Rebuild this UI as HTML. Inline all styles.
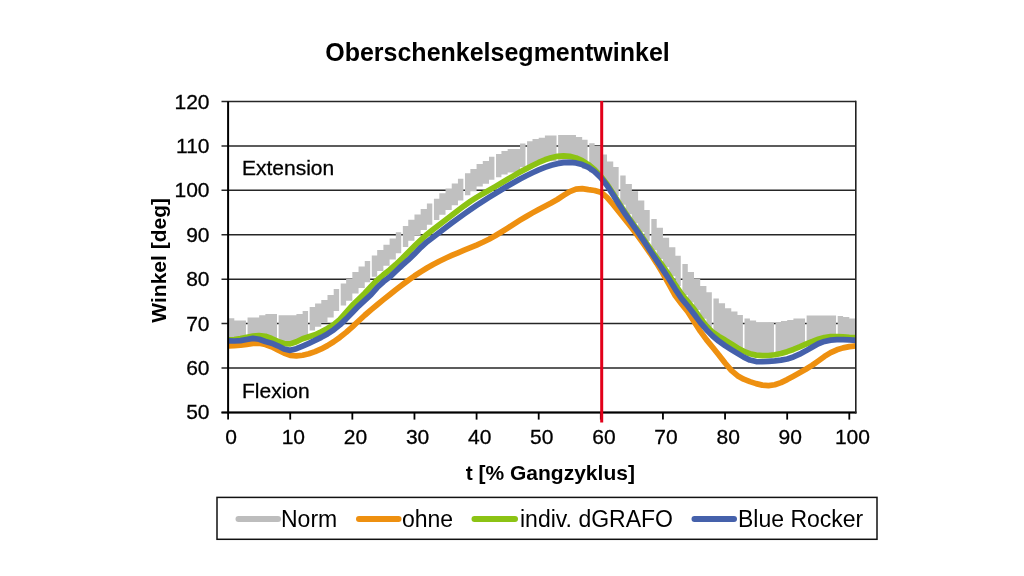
<!DOCTYPE html>
<html><head><meta charset="utf-8"><style>
html,body{margin:0;padding:0;background:#fff;width:1024px;height:576px;overflow:hidden}
svg{display:block;filter:blur(0.4px)}
text{font-family:"Liberation Sans",sans-serif;fill:#000}
.sk text,text.sk{stroke:#000;stroke-width:0.3px}
</style></head><body>
<svg width="1024" height="576" viewBox="0 0 1024 576">
<rect width="1024" height="576" fill="#fff"/>
<text x="497.5" y="60.5" text-anchor="middle" font-size="25" font-weight="bold">Oberschenkelsegmentwinkel</text>
<line x1="221.5" y1="412.45" x2="856" y2="412.45" stroke="#262626" stroke-width="1.5"/><line x1="221.5" y1="368.03" x2="856" y2="368.03" stroke="#262626" stroke-width="1.5"/><line x1="221.5" y1="323.61" x2="856" y2="323.61" stroke="#262626" stroke-width="1.5"/><line x1="221.5" y1="279.19" x2="856" y2="279.19" stroke="#262626" stroke-width="1.5"/><line x1="221.5" y1="234.76" x2="856" y2="234.76" stroke="#262626" stroke-width="1.5"/><line x1="221.5" y1="190.34" x2="856" y2="190.34" stroke="#262626" stroke-width="1.5"/><line x1="221.5" y1="145.92" x2="856" y2="145.92" stroke="#262626" stroke-width="1.5"/><line x1="221.5" y1="101.50" x2="856" y2="101.50" stroke="#262626" stroke-width="1.5"/>
<defs><clipPath id="pc"><rect x="229" y="95" width="626.5" height="317"/></clipPath></defs>
<g fill="#c0c0c0"><path d="M228.10,318.20 L234.31,318.20 L234.31,320.50 L240.52,320.50 L240.52,320.50 L245.94,320.50 L245.94,341.93 L240.52,341.93 L240.52,341.21 L234.31,341.21 L234.31,340.54 L228.10,340.54Z"/><path d="M247.54,317.60 L252.95,317.60 L252.95,317.60 L259.16,317.60 L259.16,315.20 L265.37,315.20 L265.37,314.10 L271.58,314.10 L271.58,314.10 L277.00,314.10 L277.00,339.50 L271.58,339.50 L271.58,338.39 L265.37,338.39 L265.37,338.77 L259.16,338.77 L259.16,340.46 L252.95,340.46 L252.95,339.74 L247.54,339.74Z"/><path d="M278.60,315.20 L284.01,315.20 L284.01,315.20 L290.22,315.20 L290.22,315.20 L296.43,315.20 L296.43,314.10 L302.64,314.10 L302.64,311.10 L308.06,311.10 L308.06,337.73 L302.64,337.73 L302.64,339.80 L296.43,339.80 L296.43,342.78 L290.22,342.78 L290.22,344.53 L284.01,344.53 L284.01,342.33 L278.60,342.33Z"/><path d="M309.66,307.00 L315.07,307.00 L315.07,303.50 L321.28,303.50 L321.28,300.00 L327.49,300.00 L327.49,295.00 L333.70,295.00 L333.70,289.00 L339.12,289.00 L339.12,311.00 L333.70,311.00 L333.70,317.40 L327.49,317.40 L327.49,322.80 L321.28,322.80 L321.28,326.70 L315.07,326.70 L315.07,330.60 L309.66,330.60Z"/><path d="M340.72,283.60 L346.13,283.60 L346.13,278.90 L352.34,278.90 L352.34,271.90 L358.55,271.90 L358.55,266.40 L364.76,266.40 L364.76,260.90 L370.18,260.90 L370.18,282.27 L364.76,282.27 L364.76,287.90 L358.55,287.90 L358.55,293.52 L352.34,293.52 L352.34,300.65 L346.13,300.65 L346.13,305.48 L340.72,305.48Z"/><path d="M371.78,255.50 L377.19,255.50 L377.19,250.00 L383.40,250.00 L383.40,244.80 L389.61,244.80 L389.61,238.60 L395.82,238.60 L395.82,232.30 L401.24,232.30 L401.24,253.30 L395.82,253.30 L395.82,259.60 L389.61,259.60 L389.61,265.80 L383.40,265.80 L383.40,271.12 L377.19,271.12 L377.19,276.75 L371.78,276.75Z"/><path d="M402.84,226.10 L408.25,226.10 L408.25,219.80 L414.46,219.80 L414.46,214.40 L420.67,214.40 L420.67,208.90 L426.88,208.90 L426.88,203.40 L432.30,203.40 L432.30,224.65 L426.88,224.65 L426.88,230.03 L420.67,230.03 L420.67,235.40 L414.46,235.40 L414.46,240.80 L408.25,240.80 L408.25,247.10 L402.84,247.10Z"/><path d="M433.90,198.75 L439.31,198.75 L439.31,193.30 L445.52,193.30 L445.52,188.40 L451.73,188.40 L451.73,183.60 L457.94,183.60 L457.94,178.70 L463.36,178.70 L463.36,200.57 L457.94,200.57 L457.94,205.35 L451.73,205.35 L451.73,210.03 L445.52,210.03 L445.52,214.80 L439.31,214.80 L439.31,220.12 L433.90,220.12Z"/><path d="M464.96,173.20 L470.37,173.20 L470.37,169.00 L476.58,169.00 L476.58,164.10 L482.79,164.10 L482.79,161.10 L489.00,161.10 L489.00,156.80 L494.42,156.80 L494.42,179.80 L489.00,179.80 L489.00,183.85 L482.79,183.85 L482.79,186.60 L476.58,186.60 L476.58,191.25 L470.37,191.25 L470.37,195.20 L464.96,195.20Z"/><path d="M496.02,154.00 L501.43,154.00 L501.43,151.00 L507.64,151.00 L507.64,148.90 L513.85,148.90 L513.85,148.90 L520.06,148.90 L520.06,143.40 L525.48,143.40 L525.48,167.15 L520.06,167.15 L520.06,172.57 L513.85,172.57 L513.85,172.48 L507.64,172.48 L507.64,174.50 L501.43,174.50 L501.43,177.25 L496.02,177.25Z"/><path d="M527.08,141.20 L532.49,141.20 L532.49,139.10 L538.70,139.10 L538.70,137.70 L544.91,137.70 L544.91,135.60 L551.12,135.60 L551.12,135.60 L556.54,135.60 L556.54,161.27 L551.12,161.27 L551.12,160.43 L544.91,160.43 L544.91,161.70 L538.70,161.70 L538.70,163.02 L532.49,163.02 L532.49,165.03 L527.08,165.03Z"/><path d="M558.14,134.90 L563.55,134.90 L563.55,134.90 L569.76,134.90 L569.76,134.90 L575.97,134.90 L575.97,137.00 L582.18,137.00 L582.18,139.80 L587.60,139.80 L587.60,168.80 L582.18,168.80 L582.18,166.00 L575.97,166.00 L575.97,163.07 L569.76,163.07 L569.76,162.23 L563.55,162.23 L563.55,161.40 L558.14,161.40Z"/><path d="M589.20,143.30 L594.61,143.30 L594.61,146.00 L600.82,146.00 L600.82,154.40 L607.03,154.40 L607.03,161.40 L613.24,161.40 L613.24,167.00 L618.66,167.00 L618.66,196.00 L613.24,196.00 L613.24,190.40 L607.03,190.40 L607.03,183.40 L600.82,183.40 L600.82,175.00 L594.61,175.00 L594.61,172.30 L589.20,172.30Z"/><path d="M620.26,175.60 L625.67,175.60 L625.67,184.00 L631.88,184.00 L631.88,191.25 L638.09,191.25 L638.09,200.60 L644.30,200.60 L644.30,210.00 L649.72,210.00 L649.72,241.00 L644.30,241.00 L644.30,231.89 L638.09,231.89 L638.09,223.14 L631.88,223.14 L631.88,214.29 L625.67,214.29 L625.67,204.84 L620.26,204.84Z"/><path d="M651.32,219.00 L656.73,219.00 L656.73,227.70 L662.94,227.70 L662.94,237.70 L669.15,237.70 L669.15,247.20 L675.36,247.20 L675.36,255.70 L680.78,255.70 L680.78,285.94 L675.36,285.94 L675.36,276.21 L669.15,276.21 L669.15,267.25 L662.94,267.25 L662.94,258.90 L656.73,258.90 L656.73,250.20 L651.32,250.20Z"/><path d="M682.38,264.00 L687.79,264.00 L687.79,272.10 L694.00,272.10 L694.00,279.00 L700.21,279.00 L700.21,286.00 L706.42,286.00 L706.42,292.20 L711.84,292.20 L711.84,327.11 L706.42,327.11 L706.42,318.85 L700.21,318.85 L700.21,310.11 L694.00,310.11 L694.00,302.48 L687.79,302.48 L687.79,294.99 L682.38,294.99Z"/><path d="M713.44,298.50 L718.85,298.50 L718.85,303.30 L725.06,303.30 L725.06,308.20 L731.27,308.20 L731.27,311.60 L737.48,311.60 L737.48,315.10 L742.90,315.10 L742.90,348.94 L737.48,348.94 L737.48,344.98 L731.27,344.98 L731.27,341.06 L725.06,341.06 L725.06,337.46 L718.85,337.46 L718.85,333.21 L713.44,333.21Z"/><path d="M744.50,318.60 L749.91,318.60 L749.91,320.50 L756.12,320.50 L756.12,322.80 L762.33,322.80 L762.33,322.80 L768.54,322.80 L768.54,322.60 L773.96,322.60 L773.96,355.74 L768.54,355.74 L768.54,356.50 L762.33,356.50 L762.33,356.10 L756.12,356.10 L756.12,354.72 L749.91,354.72 L749.91,352.35 L744.50,352.35Z"/><path d="M775.56,322.00 L780.97,322.00 L780.97,321.00 L787.18,321.00 L787.18,320.00 L793.39,320.00 L793.39,318.50 L799.60,318.50 L799.60,318.50 L805.02,318.50 L805.02,345.19 L799.60,345.19 L799.60,347.91 L793.39,347.91 L793.39,350.44 L787.18,350.44 L787.18,352.64 L780.97,352.64 L780.97,354.43 L775.56,354.43Z"/><path d="M806.62,315.50 L812.03,315.50 L812.03,315.50 L818.24,315.50 L818.24,315.50 L824.45,315.50 L824.45,315.50 L830.66,315.50 L830.66,315.50 L836.08,315.50 L836.08,337.52 L830.66,337.52 L830.66,337.65 L824.45,337.65 L824.45,338.53 L818.24,338.53 L818.24,340.24 L812.03,340.24 L812.03,342.55 L806.62,342.55Z"/><path d="M837.68,316.00 L843.09,316.00 L843.09,317.00 L849.30,317.00 L849.30,318.50 L855.20,318.50 L855.20,338.36 L849.30,338.36 L849.30,337.86 L843.09,337.86 L843.09,337.52 L837.68,337.52Z"/></g>

<g clip-path="url(#pc)"><polyline points="228.10,345.79 234.31,345.72 240.52,345.27 246.74,344.37 252.95,343.40 259.16,343.31 265.37,344.49 271.58,346.77 277.80,349.89 284.01,353.08 290.22,355.33 296.43,355.95 302.64,355.24 308.86,353.73 315.07,351.62 321.28,348.91 327.49,345.62 333.70,341.77 339.92,337.35 346.13,332.39 352.34,326.89 358.55,321.04 364.76,315.25 370.98,309.84 377.19,304.71 383.40,299.66 389.61,294.66 395.82,289.76 402.04,284.98 408.25,280.37 414.46,275.97 420.67,271.83 426.88,267.99 433.10,264.47 439.31,261.24 445.52,258.24 451.73,255.44 457.94,252.77 464.16,250.19 470.37,247.64 476.58,245.04 482.79,242.26 489.00,239.22 495.22,235.80 501.43,232.01 507.64,228.04 513.85,224.04 520.06,220.17 526.28,216.45 532.49,212.90 538.70,209.50 544.91,206.26 551.12,203.02 557.34,199.49 563.55,195.44 569.76,191.55 575.97,189.11 582.18,188.65 588.40,189.64 594.61,190.47 600.82,192.22 607.03,197.38 613.24,204.73 619.46,212.47 625.67,220.22 631.88,228.10 638.09,236.25 644.30,244.78 650.52,253.79 656.73,263.36 662.94,273.58 669.15,284.61 675.36,295.84 681.58,303.97 687.79,311.75 694.00,321.58 700.21,331.08 706.42,339.59 712.64,347.30 718.85,354.93 725.06,363.04 731.27,370.42 737.48,375.68 743.70,379.21 749.91,381.65 756.12,383.62 762.33,385.12 768.54,385.62 774.76,384.71 780.97,382.58 787.18,379.62 793.39,376.21 799.60,372.74 805.82,369.24 812.03,365.40 818.24,360.96 824.45,356.43 830.66,352.64 836.88,349.84 843.09,347.87 849.30,346.59 858.00,345.67" fill="none" stroke="#ee9010" stroke-width="5.7" stroke-linejoin="round" stroke-linecap="round"/>
<polyline points="228.10,339.77 234.31,339.54 240.52,338.54 246.74,337.24 252.95,336.11 259.16,335.64 265.37,336.31 271.58,338.50 277.80,341.33 284.01,343.53 290.22,343.88 296.43,341.78 302.64,338.80 308.86,336.73 315.07,334.73 321.28,331.73 327.49,328.44 333.70,324.66 339.92,319.49 346.13,312.42 352.34,305.26 358.55,299.31 364.76,293.18 370.98,286.49 377.19,280.11 383.40,274.80 389.61,269.93 395.82,264.49 402.04,258.54 408.25,252.33 414.46,246.09 420.67,240.06 426.88,234.49 433.10,229.43 439.31,224.69 445.52,220.03 451.73,215.26 457.94,210.47 464.16,205.80 470.37,201.40 476.58,197.39 482.79,193.74 489.00,190.23 495.22,186.63 501.43,182.94 507.64,179.23 513.85,175.60 520.06,172.09 526.28,168.70 532.49,165.46 538.70,162.44 544.91,159.81 551.12,157.73 557.34,156.34 563.55,155.81 569.76,156.29 575.97,157.90 582.18,160.66 588.40,164.57 594.61,169.66 600.82,176.12 607.03,184.20 613.24,193.79 619.46,203.84 625.67,213.29 631.88,222.14 638.09,230.89 644.30,240.00 650.52,249.20 656.73,257.90 662.94,266.25 669.15,275.21 675.36,284.94 681.58,293.99 687.79,301.48 694.00,309.11 700.21,317.85 706.42,326.11 712.64,332.21 718.85,336.46 725.06,340.06 731.27,343.98 737.48,347.94 743.70,351.35 749.91,353.72 756.12,355.10 762.33,355.65 768.54,355.50 774.76,354.74 780.97,353.43 787.18,351.64 793.39,349.44 799.60,346.91 805.82,344.19 812.03,341.55 818.24,339.24 824.45,337.53 830.66,336.65 836.88,336.52 843.09,336.86 849.30,337.36 858.00,337.82" fill="none" stroke="#8cc314" stroke-width="5.7" stroke-linejoin="round" stroke-linecap="round"/>
<polyline points="228.10,340.96 234.31,340.99 240.52,340.61 246.74,339.54 252.95,338.43 259.16,339.22 265.37,341.48 271.58,343.13 277.80,345.82 284.01,349.00 290.22,350.36 296.43,348.64 302.64,346.02 308.86,343.28 315.07,340.43 321.28,337.37 327.49,333.89 333.70,329.78 339.92,324.83 346.13,318.90 352.34,312.43 358.55,306.08 364.76,300.41 370.98,294.64 377.19,287.51 383.40,281.81 389.61,277.07 395.82,271.25 402.04,265.41 408.25,259.94 414.46,253.90 420.67,247.58 426.88,241.90 433.10,237.14 439.31,232.53 445.52,227.79 451.73,223.05 457.94,218.43 464.16,213.96 470.37,209.64 476.58,205.46 482.79,201.40 489.00,197.44 495.22,193.54 501.43,189.72 507.64,186.00 513.85,182.42 520.06,178.99 526.28,175.75 532.49,172.73 538.70,169.94 544.91,167.43 551.12,165.28 557.34,163.63 563.55,162.60 569.76,162.33 575.97,162.95 582.18,164.60 588.40,167.44 594.61,171.69 600.82,177.62 607.03,185.45 613.24,195.04 619.46,205.18 625.67,214.69 631.88,223.55 638.09,232.36 644.30,241.65 650.52,251.26 656.73,260.67 662.94,269.84 669.15,279.26 675.36,289.31 681.58,298.56 687.79,306.01 694.00,314.09 700.21,322.34 706.42,329.71 712.64,335.99 718.85,341.19 725.06,345.61 731.27,349.57 737.48,353.40 743.70,357.11 749.91,360.05 756.12,361.56 762.33,361.74 768.54,361.30 774.76,360.81 780.97,360.17 787.18,358.99 793.39,356.97 799.60,354.17 805.82,350.85 812.03,347.25 818.24,343.76 824.45,341.42 830.66,340.14 836.88,339.61 843.09,339.61 849.30,339.94 858.00,340.54" fill="none" stroke="#4561ab" stroke-width="5.7" stroke-linejoin="round" stroke-linecap="round"/></g>
<line x1="228.1" y1="101.5" x2="228.1" y2="413.4" stroke="#000" stroke-width="2"/>
<line x1="221.5" y1="412.45" x2="856.5" y2="412.45" stroke="#000" stroke-width="2"/>
<line x1="855.8" y1="100.75" x2="855.8" y2="413.4" stroke="#222" stroke-width="1.6"/>
<line x1="228.10" y1="412.45" x2="228.10" y2="419.6" stroke="#000" stroke-width="1.8"/><line x1="290.22" y1="412.45" x2="290.22" y2="419.6" stroke="#000" stroke-width="1.8"/><line x1="352.34" y1="412.45" x2="352.34" y2="419.6" stroke="#000" stroke-width="1.8"/><line x1="414.46" y1="412.45" x2="414.46" y2="419.6" stroke="#000" stroke-width="1.8"/><line x1="476.58" y1="412.45" x2="476.58" y2="419.6" stroke="#000" stroke-width="1.8"/><line x1="538.70" y1="412.45" x2="538.70" y2="419.6" stroke="#000" stroke-width="1.8"/><line x1="600.82" y1="412.45" x2="600.82" y2="419.6" stroke="#000" stroke-width="1.8"/><line x1="662.94" y1="412.45" x2="662.94" y2="419.6" stroke="#000" stroke-width="1.8"/><line x1="725.06" y1="412.45" x2="725.06" y2="419.6" stroke="#000" stroke-width="1.8"/><line x1="787.18" y1="412.45" x2="787.18" y2="419.6" stroke="#000" stroke-width="1.8"/><line x1="849.30" y1="412.45" x2="849.30" y2="419.6" stroke="#000" stroke-width="1.8"/>
<line x1="601.7" y1="101" x2="601.7" y2="422.4" stroke="#e2001a" stroke-width="3"/>
<g class="sk" font-size="21"><text x="209.5" y="419.45" text-anchor="end">50</text><text x="209.5" y="375.03" text-anchor="end">60</text><text x="209.5" y="330.61" text-anchor="end">70</text><text x="209.5" y="286.19" text-anchor="end">80</text><text x="209.5" y="241.76" text-anchor="end">90</text><text x="209.5" y="197.34" text-anchor="end">100</text><text x="209.5" y="152.92" text-anchor="end">110</text><text x="209.5" y="108.50" text-anchor="end">120</text><text x="231.20" y="444.3" text-anchor="middle">0</text><text x="293.32" y="444.3" text-anchor="middle">10</text><text x="355.44" y="444.3" text-anchor="middle">20</text><text x="417.56" y="444.3" text-anchor="middle">30</text><text x="479.68" y="444.3" text-anchor="middle">40</text><text x="541.80" y="444.3" text-anchor="middle">50</text><text x="603.92" y="444.3" text-anchor="middle">60</text><text x="666.04" y="444.3" text-anchor="middle">70</text><text x="728.16" y="444.3" text-anchor="middle">80</text><text x="790.28" y="444.3" text-anchor="middle">90</text><text x="852.40" y="444.3" text-anchor="middle">100</text></g>
<text class="sk" x="242" y="174.7" font-size="21">Extension</text>
<text class="sk" x="242" y="398.2" font-size="21">Flexion</text>
<text x="550.3" y="479.5" text-anchor="middle" font-size="21" font-weight="bold">t [% Gangzyklus]</text>
<text transform="translate(166,260.3) rotate(-90)" x="0" y="0" text-anchor="middle" font-size="21" font-weight="bold">Winkel [deg]</text>
<rect x="217" y="497.4" width="660" height="41.9" fill="none" stroke="#111" stroke-width="1.5"/>
<g stroke-width="6" stroke-linecap="round">
<line x1="238.5" y1="519" x2="278" y2="519" stroke="#bdbdbd"/>
<line x1="359" y1="519" x2="398.5" y2="519" stroke="#ee9010"/>
<line x1="474.5" y1="519" x2="515" y2="519" stroke="#8cc314"/>
<line x1="694.5" y1="519" x2="734" y2="519" stroke="#4561ab"/>
</g>
<g font-size="23">
<text x="281" y="526.8">Norm</text>
<text x="402" y="526.8">ohne</text>
<text x="520" y="526.8">indiv. dGRAFO</text>
<text x="738" y="526.8">Blue Rocker</text>
</g>
</svg>
</body></html>
